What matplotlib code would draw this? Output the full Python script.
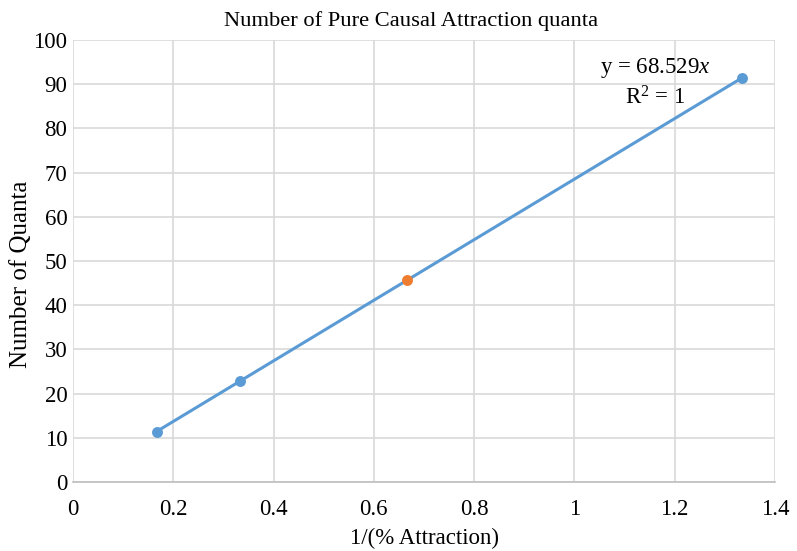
import matplotlib
matplotlib.use("Agg")
import matplotlib.pyplot as plt
import numpy as np

plt.rcParams['font.family'] = ['Liberation Serif', 'DejaVu Serif']
plt.rcParams['mathtext.fontset'] = 'custom'
plt.rcParams['mathtext.rm'] = 'Liberation Serif'
plt.rcParams['mathtext.it'] = 'Liberation Serif:italic'

x_blue = [1/6, 1/3, 4/3]
y_blue = [11.42, 22.84, 91.37]
x_orange = [2/3]
y_orange = [45.69]
slope = 68.529
x_ticks = [0, 0.2, 0.4, 0.6, 0.8, 1, 1.2, 1.4]
x_tick_labels = ['0', '0.2', '0.4', '0.6', '0.8', '1', '1.2', '1.4']
y_ticks = list(range(0, 101, 10))

fig = plt.figure(figsize=(7.97, 5.51), dpi=100)
ax = fig.add_axes([0.0916, 0.1252, 0.8808, 0.8022])

blue = '#5B9BD5'
orange = '#ED7D31'
xt = np.array([min(x_blue), max(x_blue)])
ax.plot(xt, slope * xt, color=blue, lw=2.2, zorder=2)
ax.scatter(x_blue, y_blue, s=62, color=blue, zorder=3, linewidths=0)
ax.scatter(x_orange, y_orange, s=62, color=orange, zorder=3, linewidths=0)

ax.set_xlim(0, 1.4)
ax.set_ylim(0, 100)
ax.set_xticks(x_ticks)
ax.set_xticklabels(x_tick_labels)
ax.set_yticks(y_ticks)
ax.grid(True, color='#D9D9D9', lw=1.2)
ax.set_axisbelow(True)
for s in ['top', 'right', 'left']:
    ax.spines[s].set_visible(False)
ax.spines['bottom'].set_color('#BFBFBF')
ax.spines['bottom'].set_linewidth(1.2)
ax.tick_params(length=0, labelsize=16.5)
ax.tick_params(axis='x', pad=12)
ax.tick_params(axis='y', pad=4)

ax.set_title('Number of Pure Causal Attraction quanta', fontsize=16.2, pad=10, x=0.481)
ax.set_xlabel('1/(% Attraction)', fontsize=16.5, labelpad=6)
ax.set_ylabel('Number of Quanta', fontsize=18, labelpad=1, y=0.47)

ax.text(1.161, 93.7, 'y = 68.529$x$', fontsize=16.5, ha='center', va='center')
ax.text(1.161, 86.9, 'R$^2$ = 1', fontsize=16.5, ha='center', va='center')

fig.savefig('out.png', dpi=100)
